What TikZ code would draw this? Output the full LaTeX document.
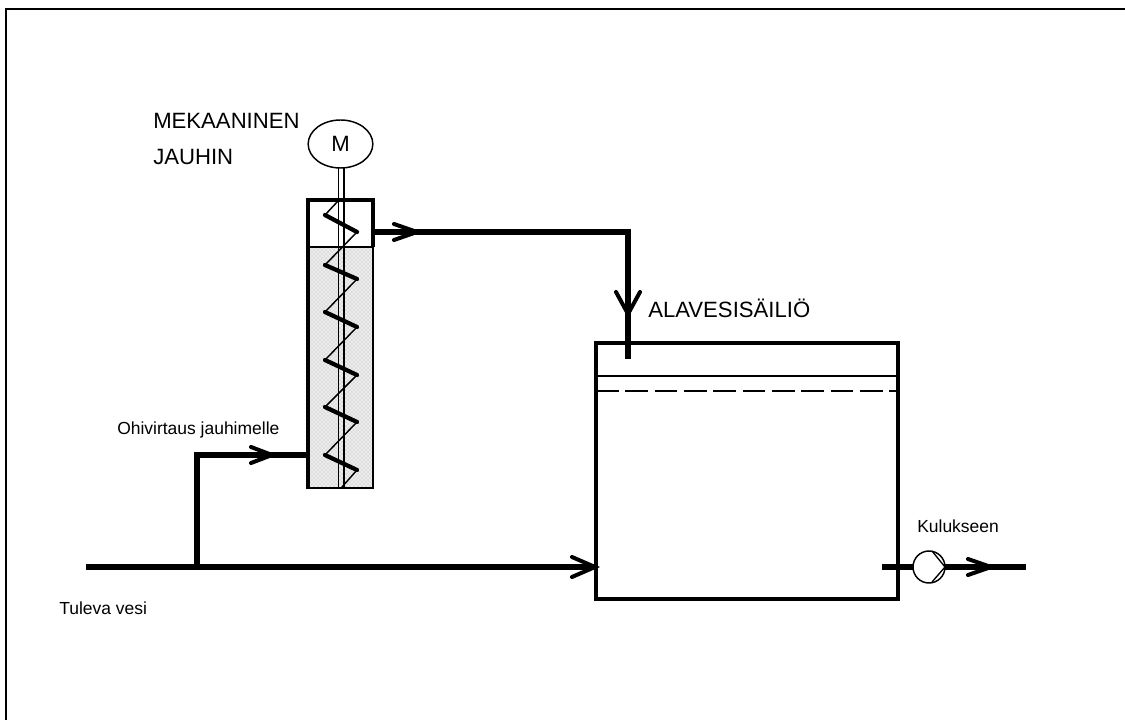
\documentclass[tikz,border=0pt]{standalone}
\usepackage{fontspec}
\setmainfont{Liberation Sans}
\usetikzlibrary{patterns,shapes.geometric}
\tikzset{
  x=0.75pt,y=-0.75pt,
  pipe/.style={line width=4.4pt,line cap=butt,line join=miter},
  tip/.style={line width=3pt,line cap=round,line join=miter},
  wall/.style={line width=2.3pt},
  big/.style={inner sep=0pt,anchor=west,font=\fontsize{16.6}{20}\selectfont},
  small/.style={inner sep=0pt,anchor=west,font=\fontsize{13.1}{15.7}\selectfont},
  coil/.style={line width=3.2pt,line cap=round},
  coilthin/.style={line width=1.1pt},
}
\definecolor{fillgrey}{gray}{0.93}
\begin{document}
\begin{tikzpicture}
\useasboundingbox (0,0) rectangle (1125,720);
\draw[line width=1.5pt] (6,720) -- (6,9) -- (1125,9);
% grinder
\fill[fillgrey] (308,247) rectangle (373,488);
\fill[pattern=crosshatch dots,pattern color=gray!65] (308,247) rectangle (373,488);
\draw[line width=1.1pt] (308,247) -- (373,247);
\draw[line width=1.1pt] (373,247) -- (373,488) -- (308,488);
\draw[wall] (308,489) -- (308,200) -- (373,200) -- (373,247);
% shaft
\draw[line width=1.2pt] (338.5,168) -- (338.5,488) (344,168) -- (344,488);
% coil
\foreach \l/\r in {215/232,265/279,312/327,360/375,407/422,455/470}{
  \draw[coil] (325,\l) -- (357,\r);
}
\draw[coilthin] (338,201) -- (325,215);
\foreach \r/\l in {232/265,279/312,327/360,375/407,422/455}{
  \draw[coilthin] (357,\r) -- (325,\l);
}
\draw[coilthin] (357,470) -- (342,487);
% motor
\node[draw,line width=1.1pt,ellipse,fill=white,outer sep=0pt,minimum width=48.5pt,minimum height=36pt,inner sep=0pt,font=\fontsize{16.6}{20}\selectfont] (motor) at (340.5,144) {M};
% pipes
\coordinate (p1) at (373,232);
\coordinate (p2) at (628,232);
\coordinate (p3) at (628,359);
\draw[pipe] (p1) -- (p2) -- (p3);
\draw[tip] (394,224) -- (417,232) -- (394,240);
\draw[tip] (616,292) -- (628,314) -- (640,292);
% tank
\node[draw,wall,outer sep=0pt,minimum width=226.5pt,minimum height=192pt,inner sep=0pt,anchor=north west] (tank) at (596,343) {};
\draw[line width=1pt] (596,376) -- (898,376);
\draw[line width=1pt,dash pattern=on 17pt off 5pt] (596,391) -- (898,391);
% inlet
\coordinate (i1) at (86,567);
\coordinate (i2) at (597,567);
\coordinate (i3) at (197,569);
\coordinate (i4) at (197,455);
\coordinate (i5) at (308,455);
\draw[pipe] (i1) -- (i2);
\draw[pipe] (i3) -- (i4) -- (i5);
\draw[tip] (572,557) -- (595,567) -- (572,577);
\draw[tip] (251,447) -- (272,455) -- (251,463);
% outlet
\coordinate (o1) at (882,567);
\coordinate (o2) at (1026,567);
\draw[pipe] (o1) -- (o2);
\draw[tip] (968,559) -- (991,567) -- (968,575);
\node[circle,draw,line width=1.1pt,fill=white,outer sep=0pt,minimum size=24pt,inner sep=0pt] (pump) at (929,567) {};
\draw[line width=1pt] (932,551) -- (945,567) -- (932,582);
% labels
\node[big] (l1) at (153,121) {MEKAANINEN};
\node[big] (l2) at (153,157) {JAUHIN};
\node[big] (l3) at (648,308) {ALAVESISÄILIÖ};
\node[small] (l4) at (117,430) {Ohivirtaus jauhimelle};
\node[small] (l5) at (59,608) {Tuleva vesi};
\node[small] (l6) at (917,526) {Kulukseen};
\end{tikzpicture}
\end{document}
